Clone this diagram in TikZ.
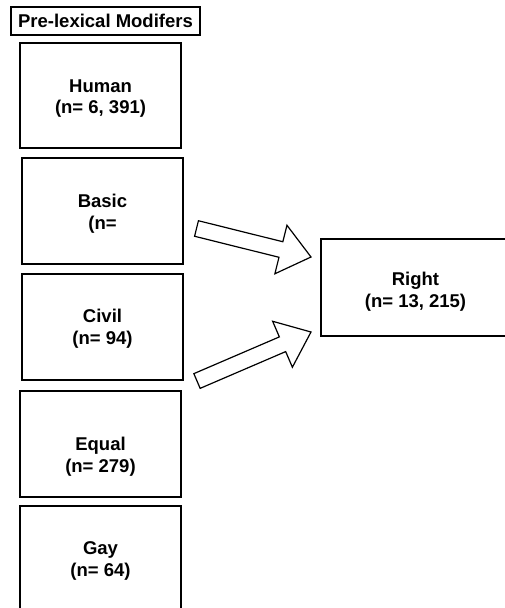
\documentclass[tikz,border=0pt]{standalone}
\usepackage{fontspec}
\setmainfont{Liberation Sans}
\usetikzlibrary{calc}

% Hollow block arrow from coordinate #1 to coordinate #2
\newcommand\blockarrow[2]{%
  \pgfmathanglebetweenpoints{\pgfpointanchor{#1}{center}}{\pgfpointanchor{#2}{center}}%
  \let\barang\pgfmathresult
  \pgfpointdiff{\pgfpointanchor{#1}{center}}{\pgfpointanchor{#2}{center}}%
  \pgfgetlastxy{\bardx}{\bardy}%
  \pgfmathveclen{\bardx}{\bardy}%
  \let\barlen\pgfmathresult
  \draw[hollowarrow, shift={(#1)}, rotate=\barang]
    (0pt,8pt) -- (\barlen pt-31pt,8pt) -- (\barlen pt-31pt,25pt)
    -- (\barlen pt,0pt) -- (\barlen pt-31pt,-25pt) -- (\barlen pt-31pt,-8pt)
    -- (0pt,-8pt) -- cycle;
}

\tikzset{
  labelfont/.style={font=\bfseries\fontsize{18.5}{21.7}\selectfont},
  box/.style={draw=black, line width=1.2pt, fill=white,
    inner sep=0pt, minimum width=161pt, minimum height=106pt},
  boxtext/.style={labelfont, align=center, inner sep=0pt},
  % text placed in the box, lowered by the given amount
  txt/.style 2 args={label={[boxtext, yshift=-#1]center:{#2}}},
  titlebox/.style={draw=black, line width=1.2pt, labelfont,
    inner sep=0pt, minimum width=189pt, minimum height=28pt},
  hollowarrow/.style={draw=black, line width=1.2pt, fill=white, line join=miter},
}

\begin{document}
\begin{tikzpicture}[x=1pt, y=-1pt]
  \useasboundingbox (0,0) rectangle (505,608);
  \clip (0,0) rectangle (505,608);

  \node[titlebox] (title) at (105.5,21) {Pre-lexical Modifers};

  \node[box, minimum height=105pt, txt={3pt}{Human\\(n= 6, 391)}] (human) at (100.5,95.5) {};
  \node[box, txt={3pt}{Basic\\(n=}] (basic) at (102.5,211) {};
  \node[box, txt={1.5pt}{Civil\\(n= 94)}] (civil) at (102.5,327) {};
  \node[box, txt={13pt}{Equal\\(n= 279)}] (equal) at (100.5,444) {};
  \node[box, txt={2pt}{Gay\\(n= 64)}] (gay) at (100.5,559) {};

  \node[box, minimum width=189pt, minimum height=97pt,
        txt={4pt}{Right\\(n= 13, 215)}] (right) at (415.5,287.5) {};

  % arrow end points between the left column and the target box
  \coordinate (tailA) at (196.5,228.5);
  \coordinate (tipA)  at (311,257);
  \coordinate (tailB) at (197,381);
  \coordinate (tipB)  at (311,332);

  \blockarrow{tailA}{tipA}
  \blockarrow{tailB}{tipB}
\end{tikzpicture}
\end{document}
